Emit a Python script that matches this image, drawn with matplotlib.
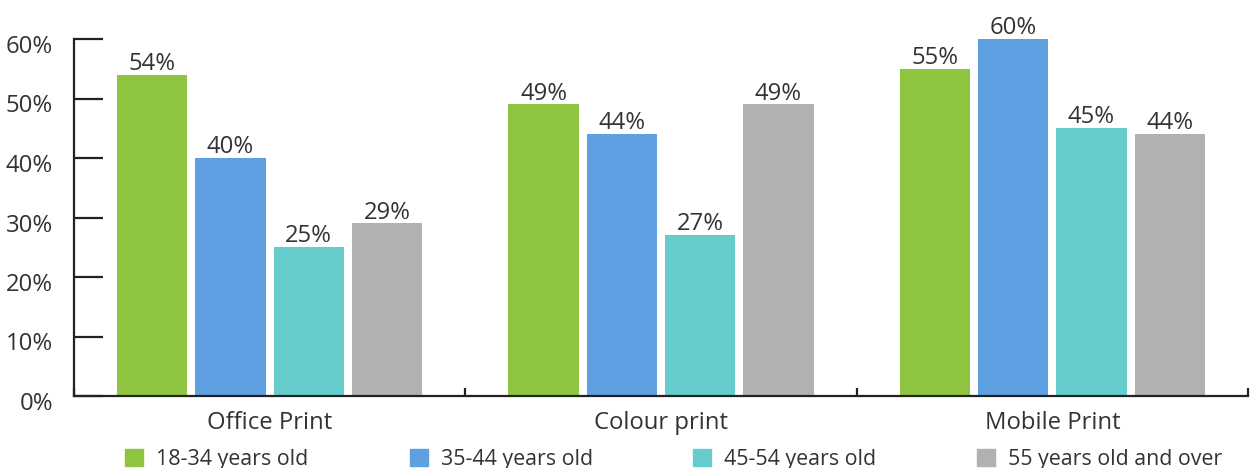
# grouped bar chart: print usage by age group

import numpy as np
import matplotlib.pyplot as plt
import matplotlib.transforms as mtransforms
from matplotlib.patches import Patch

categories = ["Office Print", "Colour print", "Mobile Print"]
age_groups = ["18-34 years old", "35-44 years old", "45-54 years old", "55 years old and over"]
vals_18_34 = [54, 49, 55]
vals_35_44 = [40, 44, 60]
vals_45_54 = [25, 27, 45]
vals_55_plus = [29, 49, 44]

colors = ["#8fc441", "#5fa0e3", "#66cdcc", "#b2b1b0"]
text_col = "#333333"
axis_col = "#222222"

def main():
    plt.rcParams["font.family"] = ["Open Sans", "DejaVu Sans"]
    fs = 17.2
    legend_fs = 15.4

    fig = plt.figure(figsize=(12.5, 4.68), dpi=100)
    ax = fig.add_axes([74/1250, 72/468, 1174/1250, 357/468])

    series = [vals_18_34, vals_35_44, vals_45_54, vals_55_plus]
    x = np.arange(len(categories))
    width = 0.18
    for j, vals in enumerate(series):
        xs = x + 0.2 + 0.2*j
        ax.bar(xs, vals, width=width, color=colors[j], zorder=2)
        for xi, v in zip(xs, vals):
            ax.annotate(f"{v}%", (xi, v), xytext=(0, 3.5), textcoords="offset points",
                        ha="center", va="baseline", fontsize=fs, color=text_col)

    ax.set_xlim(0, 3)
    ax.set_ylim(0, 60)

    # y axis: inward ticks every 10%
    ax.set_yticks(np.arange(0, 61, 10))
    ax.set_yticklabels([f"{t}%" for t in range(0, 61, 10)])
    ax.tick_params(axis="y", direction="in", length=21, width=1.6, color=axis_col,
                   pad=15, labelsize=fs, labelcolor=text_col)
    shift = mtransforms.ScaledTranslation(0, -5/100, fig.dpi_scale_trans)
    for lab in ax.get_yticklabels():
        lab.set_transform(lab.get_transform() + shift)

    # x axis: small inward ticks at group boundaries, labels at group centres
    ax.set_xticks([0, 1, 2, 3])
    ax.set_xticklabels([])
    ax.set_xticks(x + 0.5, minor=True)
    ax.set_xticklabels(categories, minor=True)
    ax.tick_params(axis="x", which="major", direction="in", length=6, width=1.6,
                   color=axis_col)
    ax.tick_params(axis="x", which="minor", length=0, pad=10.5, labelsize=fs,
                   labelcolor=text_col)

    for side in ["top", "right"]:
        ax.spines[side].set_visible(False)
    for side in ["left", "bottom"]:
        ax.spines[side].set_linewidth(1.6)
        ax.spines[side].set_color(axis_col)

    # legend entries spaced evenly along the bottom
    legend_x = [125/1250, 410/1250, 693/1250, 977/1250]
    for j, name in enumerate(age_groups):
        fig.legend(handles=[Patch(color=colors[j], label=name)],
                   loc="center left", bbox_to_anchor=(legend_x[j], 9/468),
                   frameon=False, fontsize=legend_fs, handlelength=0.85,
                   handleheight=0.85, handletextpad=0.6, borderpad=0,
                   borderaxespad=0, labelcolor=text_col)

    plt.savefig("out.png", dpi=100)

if __name__ == "__main__":
    main()
